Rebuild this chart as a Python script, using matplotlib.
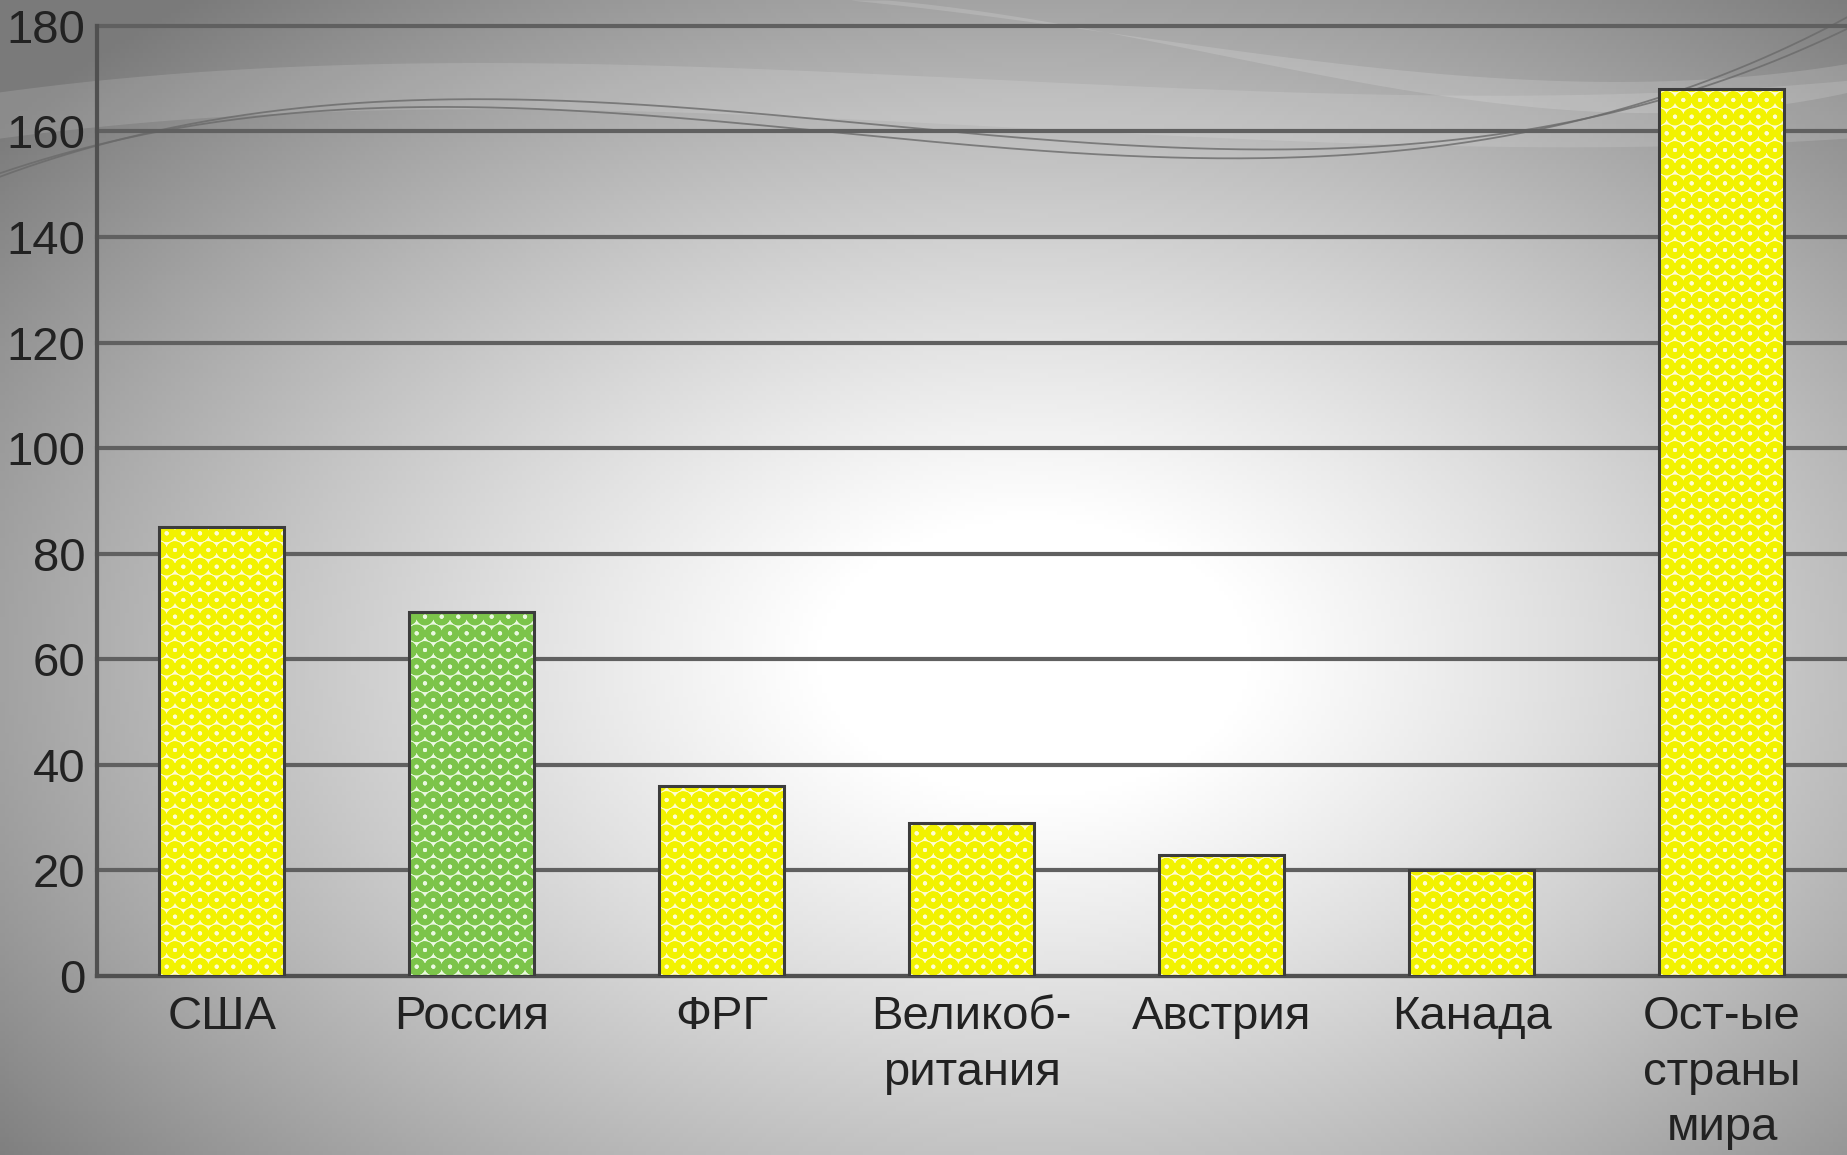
import numpy as np
import matplotlib
matplotlib.use("Agg")
import matplotlib.pyplot as plt

categories = ["США", "Россия", "ФРГ", "Великоб-\nритания", "Австрия", "Канада", "Ост-ые\nстраны\nмира"]
values = [85, 69, 36, 29, 23, 20, 168]
highlight = "Россия"
yticks = [0, 20, 40, 60, 80, 100, 120, 140, 160, 180]

plt.rcParams['font.family'] = ['Liberation Sans', 'DejaVu Sans']
plt.rcParams['hatch.linewidth'] = 4.2

W, H = 1847, 1155
fig = plt.figure(figsize=(W / 100, H / 100), dpi=100)

# background radial gradient
bg = fig.add_axes([0, 0, 1, 1], zorder=-10)
xx, yy = np.meshgrid(np.linspace(0, 1, 400), np.linspace(0, 1, 260))
cx, cy = 0.56, 0.57
r = np.sqrt(((xx - cx) / 0.72) ** 2 + ((yy - cy) / 0.74) ** 2)
r = np.clip(r, 0, 1)
lo, hi = 0.48, 1.06
val = np.clip(hi - (hi - lo) * r ** 1.25, 0, 1)
img = np.dstack([val, val, val])
bg.imshow(img, extent=[0, 1, 0, 1], origin='upper', aspect='auto')

# decorative swooshes near top
t = np.linspace(0, 1, 400)
c1 = np.polyfit([0, 0.3, 0.73, 1.0], [0.847, 0.913, 0.872, 0.975], 3)
c2 = np.polyfit([0, 0.3, 0.73, 1.0], [0.850, 0.905, 0.866, 0.985], 3)
top_band = np.polyfit([0, 0.3, 0.7, 1.0], [0.92, 0.945, 0.92, 0.93], 3)
bot_band = np.polyfit([0, 0.3, 0.75, 1.0], [0.88, 0.905, 0.875, 0.88], 3)
bg.fill_between(t, np.polyval(bot_band, t), np.polyval(top_band, t), color='white', alpha=0.13, lw=0)
sw_top = np.polyfit([0.46, 0.7, 0.85, 1.0], [1.0, 0.95, 0.93, 0.945], 3)
sw_bot = np.polyfit([0.48, 0.7, 0.85, 1.0], [1.0, 0.94, 0.905, 0.92], 3)
m = t >= 0.46
bg.fill_between(t[m], np.clip(np.polyval(sw_bot, t[m]), 0, 1), np.clip(np.polyval(sw_top, t[m]), 0, 1), color='white', alpha=0.15, lw=0)
bg.plot(t, np.polyval(c1, t), color='#6a6a6a', lw=1.3, alpha=0.8)
bg.plot(t, np.polyval(c2, t), color='#6a6a6a', lw=1.3, alpha=0.8)
bg.set_xlim(0, 1)
bg.set_ylim(0, 1)
bg.axis('off')

ax = fig.add_axes([0.0523, 0.155, 0.9477, 0.8226])
ax.patch.set_alpha(0)
x = np.arange(len(categories))
face = ['#eaf8e0' if c == highlight else '#fffcd0' for c in categories]
dots = ['#7cc44a' if c == highlight else '#f2f200' for c in categories]
ax.bar(x, values, width=0.5, color=face, edgecolor=dots, hatch='O', linewidth=0, zorder=3)
ax.bar(x, values, width=0.5, fill=False, edgecolor='#3c3c3c', linewidth=2.2, zorder=4)

ax.set_xlim(-0.5, len(categories) - 0.5)
ax.set_ylim(0, 180)
ax.set_yticks(yticks)
ax.set_xticks(x)
ax.set_xticklabels(categories, fontsize=34, color='#222222', linespacing=1.33)
ax.tick_params(axis='y', labelsize=34, labelcolor='#222222', length=0, pad=8)
ax.tick_params(axis='x', length=0, pad=14)
ax.grid(axis='y', color='#606060', linewidth=3, zorder=1)
for gl in ax.get_ygridlines():
    gl.set_clip_on(False)
ax.set_axisbelow(True)
for s in ['top', 'right']:
    ax.spines[s].set_visible(False)
ax.spines['left'].set_color('#505050')
ax.spines['left'].set_linewidth(3)
ax.spines['bottom'].set_color('#505050')
ax.spines['bottom'].set_linewidth(3)

fig.savefig('out.png', dpi=100)
